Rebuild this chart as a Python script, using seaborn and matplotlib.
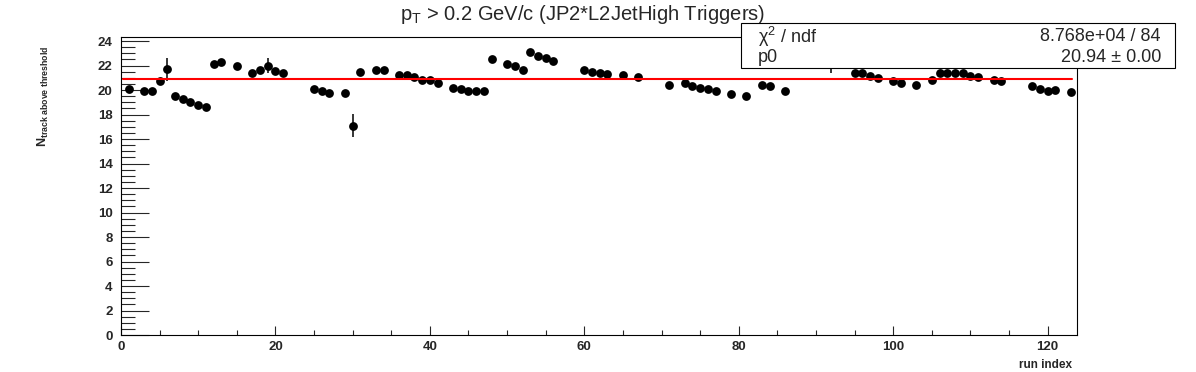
import numpy as np
import pandas as pd
import matplotlib
matplotlib.use("Agg")
import matplotlib.pyplot as plt
import seaborn as sns
from matplotlib.patches import Rectangle
from matplotlib.ticker import MultipleLocator

# ---------------- data ----------------
run_index = [1, 3, 4, 5, 6, 7, 8, 9, 10, 11, 12, 13, 15, 17, 18, 19, 20, 21,
             25, 26, 27, 29, 30, 31, 33, 34, 36, 37, 38, 39, 40, 41, 43, 44, 45, 46, 47, 48,
             50, 51, 52, 53, 54, 55, 56, 60, 61, 62, 63, 65, 67, 71, 73, 74, 75, 76, 77, 79,
             81, 83, 84, 86,
             92,
             95, 96, 97, 98, 100, 101, 103, 105, 106, 107, 108, 109, 110, 111, 113, 114,
             118, 119, 120, 121, 123]
n_tracks = [20.05, 19.9, 19.9, 20.75, 21.7, 19.5, 19.25, 19.0, 18.75, 18.65, 22.1, 22.25,
            21.95, 21.4, 21.65, 22.0, 21.55, 21.4,
            20.05, 19.95, 19.75, 19.75, 17.1, 21.5, 21.65, 21.6, 21.2, 21.2, 21.05, 20.85,
            20.8, 20.55, 20.15, 20.05, 19.9, 19.9, 19.9, 22.5,
            22.1, 22.0, 21.6, 23.1, 22.8, 22.6, 22.4, 21.6, 21.5, 21.4, 21.3, 21.25, 21.1,
            20.4, 20.6, 20.35, 20.2, 20.05, 19.95, 19.7, 19.55, 20.4, 20.3, 19.95,
            22.4,
            21.4, 21.35, 21.15, 21.0, 20.7, 20.6, 20.45, 20.8, 21.35, 21.4, 21.4, 21.35,
            21.15, 21.1, 20.8, 20.7, 20.3, 20.05, 19.95, 20.0, 19.8]
n_err = [0.05] * len(run_index)
big_err = {6: 0.95, 19: 0.65, 30: 0.95, 92: 1.0}
for k, e in big_err.items():
    n_err[run_index.index(k)] = e

fit_p0 = 20.94
fit_range = [0.3, 123.1]
title = r"p$_{\mathregular{T}}$ > 0.2 GeV/c (JP2*L2JetHigh Triggers)"
ylabel = r"N$_{\mathbf{track\ above\ threshold}}$"
xlabel = "run index"
stat_rows = [("χ$^{2}$ / ndf", "8.768e+04 / 84"), ("p0", "20.94 ± 0.00")]

df = pd.DataFrame({"run": run_index, "n": n_tracks, "err": n_err})
fit_df = pd.DataFrame({"x": fit_range, "y": [fit_p0, fit_p0]})

# ---------------- style ----------------
sns.set_theme(style="white")
plt.rcParams["font.family"] = ["Liberation Sans", "DejaVu Sans"]
plt.rcParams["mathtext.fontset"] = "custom"
plt.rcParams["mathtext.rm"] = "Liberation Sans"
plt.rcParams["mathtext.it"] = "Liberation Sans:italic"
plt.rcParams["mathtext.bf"] = "Liberation Sans:bold"

W, H = 1196, 372
fig = plt.figure(figsize=(W / 100, H / 100), dpi=100)
fig.patch.set_facecolor("white")
ax = fig.add_axes([121 / W, 1 - 335 / H, (1077 - 121) / W, (335 - 37) / H])
ax.set_facecolor("white")

ax.errorbar(df["run"], df["n"], yerr=df["err"], fmt="none", ecolor="black",
            elinewidth=1.1, capsize=0, zorder=2)
sns.scatterplot(data=df, x="run", y="n", color="black", s=40, linewidth=0,
                ax=ax, zorder=3, legend=False)
sns.lineplot(data=fit_df, x="x", y="y", color="#ff0000", linewidth=1.5,
             ax=ax, zorder=4, legend=False)

ax.set_xlim(0, 123.8)
ax.set_ylim(0, 24.33)
ax.set_xlabel("")
ax.set_ylabel("")

ax.xaxis.set_major_locator(MultipleLocator(20))
ax.xaxis.set_minor_locator(MultipleLocator(5))
ax.yaxis.set_major_locator(MultipleLocator(2))
ax.yaxis.set_minor_locator(MultipleLocator(0.5))
ax.tick_params(axis="y", which="major", direction="in", length=20, width=0.8,
               left=True, right=False, pad=6, labelsize=9.5)
ax.tick_params(axis="y", which="minor", direction="in", length=10, width=0.8,
               left=True, right=False)
ax.tick_params(axis="x", which="major", direction="in", length=6.7, width=0.8,
               bottom=True, top=False, pad=4, labelsize=9.5)
ax.tick_params(axis="x", which="minor", direction="in", length=3.3, width=0.8,
               bottom=True, top=False)
for lab in ax.get_xticklabels() + ax.get_yticklabels():
    lab.set_fontweight("bold")
for sp in ax.spines.values():
    sp.set_visible(True)
    sp.set_color("black")
    sp.set_linewidth(0.8)

fig.text(583 / W, 1 - 15 / H, title, ha="center", va="center", fontsize=14.5)
fig.text(43 / W, 1 - 46 / H, ylabel, rotation=90, ha="center", va="top",
         fontsize=9, fontweight="bold")
fig.text(1072 / W, 1 - 365 / H, xlabel, ha="right", va="center",
         fontsize=8.5, fontweight="bold")

# stats box
fig.add_artist(Rectangle((741 / W, 1 - 68 / H), (1175 - 741) / W, 45 / H,
                         transform=fig.transFigure, facecolor="white",
                         edgecolor="black", linewidth=0.8, zorder=10))
row_y = [36.5, 58]
for (lt, rt), yy in zip(stat_rows, row_y):
    fig.text(758 / W, 1 - yy / H, lt, ha="left", va="center", fontsize=13, zorder=11)
    fig.text(1161 / W, 1 - yy / H, rt, ha="right", va="center", fontsize=13, zorder=11)

fig.savefig("out.png", dpi=100)
